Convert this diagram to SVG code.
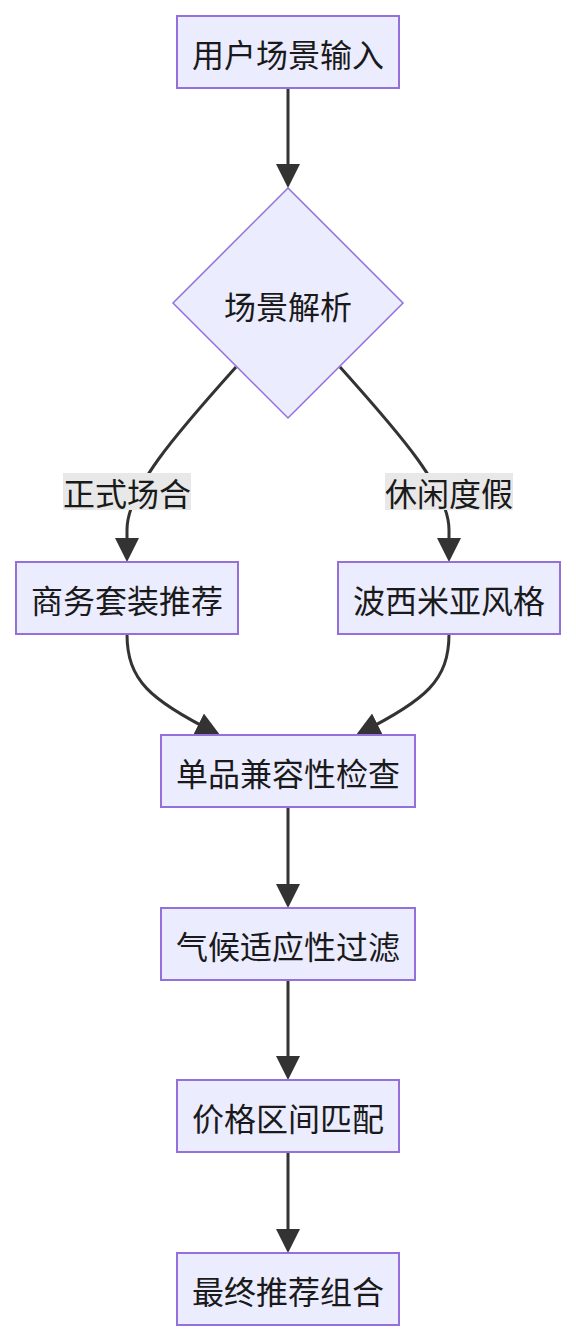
<svg xmlns="http://www.w3.org/2000/svg" width="576" height="1342" viewBox="0 0 576 1342">
<style>
.n rect,.n polygon{fill:#ECECFF;stroke:#9370DB;stroke-width:2}
.n polygon{stroke-width:1.5}
text{font-family:"Noto Sans CJK SC","Noto Sans",sans-serif;font-size:32px;fill:#1a1a1a;text-anchor:middle;dominant-baseline:central}
.e path{fill:none;stroke:#333;stroke-width:3}
.lbl rect{fill:#e8e8e8}
</style>
<defs>
<marker id="ah" viewBox="0 0 10 10" markerUnits="userSpaceOnUse" markerWidth="24" markerHeight="24" refX="7.9" refY="5" orient="auto">
<path d="M0,0 L10,5 L0,10 z" fill="#333"/>
</marker>
</defs>
<g id="edges" class="e">
<path d="M288,88 L288,183" marker-end="url(#ah)"/>
<path d="M236,367 C175,435 127,490 127,530 L127,557" marker-end="url(#ah)"/>
<path d="M340,367 C401,435 449,490 449,530 L449,557" marker-end="url(#ah)"/>
<path d="M127,634 C127,680 150,700 215.5,732.8" marker-end="url(#ah)"/>
<path d="M449,634 C449,680 426,700 360.5,732.8" marker-end="url(#ah)"/>
<path d="M288,807 L288,903" marker-end="url(#ah)"/>
<path d="M288,980 L288,1075" marker-end="url(#ah)"/>
<path d="M288,1152 L288,1248" marker-end="url(#ah)"/>
</g>
<g id="label-formal" class="lbl"><rect x="63" y="473" width="128" height="37"/><text x="127" y="492">正式场合</text></g>
<g id="label-casual" class="lbl"><rect x="385" y="473" width="128" height="37"/><text x="449" y="492">休闲度假</text></g>
<g id="n1" class="n"><rect x="177" y="16" width="222" height="72"/><text x="288" y="53">用户场景输入</text></g>
<g id="n2" class="n"><polygon points="288,188 403,303 288,418 173,303"/><text x="288" y="305">场景解析</text></g>
<g id="n3" class="n"><rect x="16" y="562" width="222" height="72"/><text x="127" y="599">商务套装推荐</text></g>
<g id="n4" class="n"><rect x="338" y="562" width="222" height="72"/><text x="449" y="599">波西米亚风格</text></g>
<g id="n5" class="n"><rect x="161" y="735" width="254" height="72"/><text x="288" y="772">单品兼容性检查</text></g>
<g id="n6" class="n"><rect x="161" y="908" width="254" height="72"/><text x="288" y="945">气候适应性过滤</text></g>
<g id="n7" class="n"><rect x="177" y="1080" width="222" height="72"/><text x="288" y="1117">价格区间匹配</text></g>
<g id="n8" class="n"><rect x="177" y="1253" width="222" height="72"/><text x="288" y="1290">最终推荐组合</text></g>
</svg>
